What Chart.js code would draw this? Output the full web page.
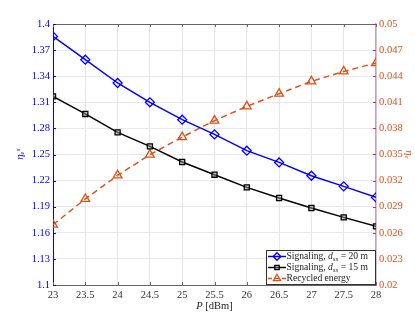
<!DOCTYPE html>
<html>
<head>
<meta charset="utf-8">
<script src="https://cdn.jsdelivr.net/npm/chart.js@4.4.1/dist/chart.umd.min.js"></script>
<style>
  html, body { margin: 0; padding: 0; background: #fff; }
  #wrap { width: 415px; height: 322px; }
</style>
</head>
<body>
<div id="wrap"><canvas id="effChart" width="415" height="322"></canvas></div>
<script>
// valores
const powerDbm = [23, 23.5, 24, 24.5, 25, 25.5, 26, 26.5, 27, 27.5, 28];
const signaling20 = [1.3857, 1.359, 1.3322, 1.310, 1.290, 1.2731, 1.2544, 1.2409, 1.2256, 1.2134, 1.2007];
const signaling15 = [1.3168, 1.2966, 1.2754, 1.2593, 1.2414, 1.2268, 1.2122, 1.200, 1.1885, 1.1777, 1.1674];
const recycledEnergy = [0.02693, 0.02989, 0.0326, 0.03498, 0.0370, 0.0389, 0.04053, 0.04199, 0.0434, 0.04455, 0.04552];

const leftTicks = { min: 1.1, max: 1.4, step: 0.03 };
const rightTicks = { min: 0.02, max: 0.05, step: 0.003 };
const xTicks = { min: 23, max: 28, step: 0.5 };

const BLUE = 'rgb(0,0,255)';
const ORANGE = 'rgb(217,83,25)';
const SERIF = '"Liberation Serif", "DejaVu Serif", serif';

function toPoints(ys) {
    return powerDbm.map((x, i) => ({ x: x, y: ys[i] }));
}

// desenha a caixa, as marcas internas, o titulo do eixo x e a legenda
const decorPlugin = {
    id: 'decor',
    afterDatasetsDraw(chart) {
        const ctx = chart.ctx;
        const a = chart.chartArea;
        const sx = chart.scales.x, sl = chart.scales.y, sr = chart.scales.y1;
        ctx.save();
        // borda de cima
        ctx.strokeStyle = '#666';
        ctx.lineWidth = 1;
        ctx.beginPath();
        ctx.moveTo(a.left, a.top + 0.5);
        ctx.lineTo(a.right, a.top + 0.5);
        ctx.stroke();
        // marcas x (dentro)
        sx.ticks.forEach(t => {
            const px = Math.round(sx.getPixelForValue(t.value)) + 0.5;
            ctx.beginPath();
            ctx.moveTo(px, a.bottom); ctx.lineTo(px, a.bottom - 3);
            ctx.moveTo(px, a.top); ctx.lineTo(px, a.top + 3);
            ctx.stroke();
        });
        ctx.strokeStyle = BLUE;
        sl.ticks.forEach(t => {
            const py = Math.round(sl.getPixelForValue(t.value)) + 0.5;
            ctx.beginPath();
            ctx.moveTo(a.left, py); ctx.lineTo(a.left + 3, py);
            ctx.stroke();
        });
        ctx.strokeStyle = 'rgb(160,60,90)';
        sr.ticks.forEach(t => {
            const py = Math.round(sr.getPixelForValue(t.value)) + 0.5;
            ctx.beginPath();
            ctx.moveTo(a.right, py); ctx.lineTo(a.right - 3, py);
            ctx.stroke();
        });

        // titulo do eixo x
        ctx.fillStyle = '#222';
        ctx.textBaseline = 'middle';
        ctx.font = '10.5px ' + SERIF;
        const rest = ' [dBm]';
        const wRest = ctx.measureText(rest).width;
        ctx.font = 'italic 10.5px ' + SERIF;
        const wP = ctx.measureText('P').width;
        let tx = (a.left + a.right) / 2 - (wP + wRest) / 2;
        ctx.fillText('P', tx, 306);
        ctx.font = '10.5px ' + SERIF;
        ctx.fillText(rest, tx + wP, 306);

        // legenda
        const lx = 266, ly = 250, lw = a.right - 266, lh = 35;
        ctx.fillStyle = '#fff';
        ctx.fillRect(lx, ly, lw, lh);
        ctx.strokeStyle = '#333';
        ctx.lineWidth = 1;
        ctx.strokeRect(lx + 0.5, ly + 0.5, lw - 1, lh - 1);
        const rows = [
            { ds: 0, pre: 'Signaling, ', sub: 'ss', post: ' = 20 m', y: ly + 6.5 },
            { ds: 1, pre: 'Signaling, ', sub: 'ss', post: ' = 15 m', y: ly + 17.5 },
            { ds: 2, pre: 'Recycled energy', sub: null, post: '', y: ly + 28.5 }
        ];
        const fs = 9.6;
        rows.forEach(r => {
            const ds = chart.data.datasets[r.ds];
            ctx.strokeStyle = ds.borderColor;
            ctx.lineWidth = ds.borderWidth;
            ctx.setLineDash(ds.borderDash ? [4, 3] : []);
            ctx.beginPath();
            ctx.moveTo(lx + 2, r.y); ctx.lineTo(lx + 20, r.y);
            ctx.stroke();
            ctx.setLineDash([]);
            ctx.lineWidth = 1.3;
            ctx.fillStyle = ds.pointBackgroundColor;
            Chart.helpers.drawPoint(ctx, {
                pointStyle: ds.pointStyle, radius: ds.pointRadius * 0.85, rotation: 0, borderWidth: 1.3
            }, lx + 11, r.y);
            ctx.fillStyle = '#222';
            ctx.font = fs + 'px ' + SERIF;
            let x = lx + 20.5;
            ctx.fillText(r.pre, x, r.y);
            x += ctx.measureText(r.pre).width;
            if (r.sub) {
                ctx.font = 'italic ' + fs + 'px ' + SERIF;
                ctx.fillText('d', x, r.y);
                x += ctx.measureText('d').width;
                ctx.font = 'italic 7px ' + SERIF;
                ctx.fillText(r.sub, x, r.y + 2.5);
                x += ctx.measureText(r.sub).width;
                ctx.font = fs + 'px ' + SERIF;
                ctx.fillText(r.post, x, r.y);
            }
        });
        ctx.restore();
    }
};

let ctx = document.getElementById('effChart').getContext('2d');
let effChart = new Chart(ctx, {
    type: 'line',
    data: {
        datasets: [{
            label: 'Signaling, d_ss = 20 m',
            data: toPoints(signaling20),
            yAxisID: 'y',
            borderColor: BLUE,
            backgroundColor: 'rgba(255,255,255,0)',
            borderWidth: 1.5,
            pointStyle: 'rectRot',
            pointRadius: 4.5,
            pointBorderWidth: 1.3,
            pointBackgroundColor: 'rgba(255,255,255,0)'
        }, {
            label: 'Signaling, d_ss = 15 m',
            data: toPoints(signaling15),
            yAxisID: 'y',
            borderColor: '#000',
            backgroundColor: 'rgba(255,255,255,0)',
            borderWidth: 1.5,
            pointStyle: 'rect',
            pointRadius: 3.6,
            pointBorderWidth: 1.3,
            pointBackgroundColor: 'rgba(150,150,150,0.5)'
        }, {
            label: 'Recycled energy',
            data: toPoints(recycledEnergy),
            yAxisID: 'y1',
            borderColor: ORANGE,
            backgroundColor: 'rgba(255,255,255,0)',
            borderWidth: 1.5,
            borderDash: [6, 4],
            pointStyle: 'triangle',
            pointRadius: 5,
            pointBorderWidth: 1.3,
            pointBackgroundColor: 'rgba(255,255,255,0)'
        }]
    },
    options: {
        responsive: false,
        animation: false,
        layout: { padding: { top: 24, left: 0, right: 0, bottom: 0 } },
        plugins: { legend: { display: false }, tooltip: { enabled: false } },
        scales: {
            x: {
                type: 'linear',
                min: xTicks.min, max: xTicks.max,
                ticks: {
                    stepSize: xTicks.step, padding: 4, color: '#333',
                    font: { family: SERIF, size: 10.5 },
                    callback: v => String(parseFloat(v.toFixed(1)))
                },
                grid: { color: '#e4e4ea', drawTicks: false },
                border: { color: '#666' },
                afterFit: s => { s.height = 37; }
            },
            y: {
                position: 'left',
                min: leftTicks.min, max: leftTicks.max,
                ticks: {
                    stepSize: leftTicks.step, padding: 3, color: BLUE,
                    font: { family: SERIF, size: 10.5 },
                    callback: v => String(parseFloat(v.toFixed(2)))
                },
                grid: { color: '#e6e6f4', drawTicks: false },
                border: { color: BLUE },
                title: {
                    display: true, text: 'ηₑˢ', color: BLUE,
                    font: { family: SERIF, size: 11, style: 'italic' },
                    padding: { top: 14, bottom: 0 }
                },
                afterFit: s => { s.width = 53; }
            },
            y1: {
                position: 'right',
                min: rightTicks.min, max: rightTicks.max,
                ticks: {
                    stepSize: rightTicks.step, padding: 3, color: ORANGE,
                    font: { family: SERIF, size: 10.5 },
                    callback: v => String(parseFloat(v.toFixed(3)))
                },
                grid: { drawOnChartArea: false, drawTicks: false },
                border: { color: 'rgb(200,160,185)', width: 1.5 },
                title: {
                    display: true, text: 'ηₑ', color: ORANGE,
                    font: { family: SERIF, size: 11, style: 'italic' },
                    padding: { top: 0, bottom: 0 }
                },
                afterFit: s => { s.width = 39; }
            }
        }
    },
    plugins: [decorPlugin]
});
</script>
</body>
</html>
